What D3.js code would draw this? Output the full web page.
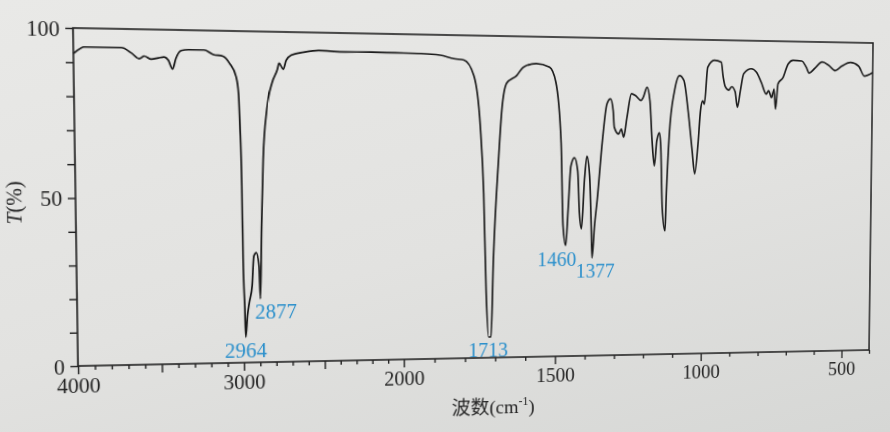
<!DOCTYPE html>
<html><head><meta charset="utf-8">
<script src="https://cdn.jsdelivr.net/npm/d3@7"></script>
<style>
html,body{margin:0;padding:0;width:890px;height:432px;overflow:hidden;
background:linear-gradient(165deg,#e9e9e7 0%,#e2e2e0 55%,#d6d7d5 100%);}
#chart{position:absolute;left:0;top:0;transform-origin:0 0;}
</style></head><body>
<svg id="chart" width="890" height="432"></svg>
<script>
// ---- data (wavenumber in cm^-1, transmittance in %) ----
const wavenumbers = [4000,3960,3938,3718,3660,3613,3583,3541,3500,3464,3440,3415,3395,3363,3320,3225,3170,3111,3071,3033,3019,3012,3004,3000,2992,2988,2976,2964,2946,2934,2919,2903,2896,2885,2872,2847,2814,2781,2770,2745,2726,2694,2611,2526,2380,2200,2050,1942,1880,1835,1802,1770,1749,1738,1730,1722,1714,1706,1689,1678,1662,1629,1607,1564,1520,1499,1481,1474,1465,1457,1448,1436,1425,1419,1412,1402,1394,1385,1379,1376,1368,1359,1342,1327,1315,1306,1302,1287,1278,1270,1259,1244,1230,1212,1204,1191,1181,1173,1165,1157,1148,1143,1137,1127,1123,1114,1097,1080,1065,1050,1035,1026,1015,1007,1000,994,983,960,936,929,922,910,899,887,879,869,858,831,813,796,778,770,760,751,745,737,719,702,685,654,638,627,609,581,557,534,511,480,451,430,400];
const transmittance = [92.5,94.0,94.5,94.5,93.0,91.3,92.1,91.2,91.6,91.9,91.0,88.4,91.5,93.9,94.2,94.2,92.9,92.4,90.3,86.4,81.4,71.7,53.6,31.5,16.4,7.8,14.4,18.4,23.4,32.4,33.4,29.4,19.4,41.5,61.7,76.8,84.7,88.7,90.6,88.8,91.5,93.1,94.1,94.6,94.3,94.4,94.3,94.2,93.8,92.8,92.4,87.7,72.2,51.5,20.5,6.5,6.5,30.8,61.8,77.3,85.5,87.9,90.5,91.7,90.6,86.0,67.2,41.1,35.0,46.3,59.9,62.5,58.3,45.2,40.2,55.8,63.0,57.0,41.0,31.0,41.0,49.3,68.0,79.5,81.0,77.3,72.1,70.0,71.6,69.0,75.3,82.7,82.1,80.6,81.6,84.8,80.5,67.9,60.0,68.0,70.5,65.8,46.8,39.4,51.1,70.1,83.8,88.6,87.1,77.6,64.9,57.5,67.0,77.6,80.7,79.7,91.4,93.6,93.0,88.3,85.3,84.2,85.3,83.7,78.8,84.1,89.5,91.1,90.0,86.8,83.1,84.2,82.0,84.7,78.3,86.4,88.5,92.8,94.0,93.8,91.9,90.0,91.4,93.6,92.5,90.9,92.4,93.6,92.5,89.3,90.5];

const xTickValues = d3.range(4000, 399, -100);
const xTickLabels = [4000, 3000, 2000, 1500, 1000, 500];
const yTickValues = d3.range(0, 101, 10);
const yTickLabels = [0, 50, 100];

// peak annotations: text and anchor (data units)
const peakLabels = ["2964", "2877", "1713", "1460", "1377"];
const peakLabelWn = [2987, 2800, 1723, 1495, 1365];
const peakLabelT = [1.4, 13.3, 0.3, 28.6, 24.7];

// ---- layout ----
const L = 75, T = 35, R = 871, B = 358;
const svg = d3.select("#chart");

// 4000-2000 compressed, 2000-400 expanded (standard IR chart)
const x = d3.scaleLinear().domain([4000, 2000, 400]).range([L, L + (R - L) * 0.389, R]);
const y = d3.scaleLinear().domain([0, 100]).range([B, T]);

const serif = "'Liberation Serif','Times New Roman',serif";
const ink = "#242424";

// frame
svg.append("rect").attr("x", L).attr("y", T).attr("width", R - L).attr("height", B - T)
  .attr("fill", "none").attr("stroke", ink).attr("stroke-width", 1.6);

// x axis
const gx = svg.append("g").attr("transform", `translate(0,${B})`)
  .call(d3.axisBottom(x).tickValues(xTickValues).tickSize(4)
    .tickFormat(d => xTickLabels.includes(d) ? d : ""));
gx.select(".domain").remove();
gx.selectAll(".tick line").attr("stroke", ink).attr("stroke-width", 1.4)
  .attr("y2", d => d % 500 === 0 ? 8 : 4);
gx.selectAll(".tick text").attr("y", 26).attr("dy", 0)
  .attr("font-family", serif).attr("font-size", 20).attr("fill", ink);

// y axis
const gy = svg.append("g").attr("transform", `translate(${L},0)`)
  .call(d3.axisLeft(y).tickValues(yTickValues).tickSize(7)
    .tickFormat(d => yTickLabels.includes(d) ? d : ""));
gy.select(".domain").remove();
gy.selectAll(".tick line").attr("stroke", ink).attr("stroke-width", 1.4);
gy.selectAll(".tick text").attr("x", -12).attr("dy", "0.35em")
  .attr("font-family", serif).attr("font-size", 20).attr("fill", ink);

// axis titles
const yt = svg.append("text").attr("transform", "translate(19,201) rotate(-90)")
  .attr("text-anchor", "middle").attr("dy", "0.35em")
  .attr("font-family", serif).attr("font-size", 20).attr("fill", ink);
yt.append("tspan").attr("font-style", "italic").text("T");
yt.append("tspan").text("(%)");

const xt = svg.append("text").attr("x", 474).attr("y", 415).attr("text-anchor", "middle")
  .attr("font-size", 19).attr("fill", ink);
xt.append("tspan").attr("font-family", "'Noto Sans CJK SC',sans-serif").text("波数");
xt.append("tspan").attr("font-family", serif).text("(cm");
xt.append("tspan").attr("font-family", serif).attr("font-size", 12).attr("dy", -8).text("-1");
xt.append("tspan").attr("font-family", serif).attr("dy", 8).text(")");

// spectrum
const pts = wavenumbers.map((w, i) => [w, transmittance[i]]);
svg.append("path").datum(pts)
  .attr("fill", "none").attr("stroke", "#1c1c1c").attr("stroke-width", 1.7)
  .attr("stroke-linejoin", "round")
  .attr("d", d3.line().x(d => x(d[0])).y(d => y(d[1])).curve(d3.curveMonotoneX));

// peak labels
svg.selectAll("text.peak").data(peakLabels).join("text").attr("class", "peak")
  .attr("x", (d, i) => x(peakLabelWn[i])).attr("y", (d, i) => y(peakLabelT[i]))
  .attr("text-anchor", "middle").attr("font-family", serif).attr("font-size", 20)
  .attr("fill", "#2a8fcb").text(d => d);

// ---- photo perspective: map plot rectangle onto the photographed quadrilateral ----
function solve(A, b) {
  const n = b.length, M = A.map((r, i) => r.concat([b[i]]));
  for (let c = 0; c < n; c++) {
    let p = c;
    for (let r = c + 1; r < n; r++) if (Math.abs(M[r][c]) > Math.abs(M[p][c])) p = r;
    [M[c], M[p]] = [M[p], M[c]];
    for (let r = 0; r < n; r++) {
      if (r === c) continue;
      const f = M[r][c] / M[c][c];
      for (let k = c; k <= n; k++) M[r][k] -= f * M[c][k];
    }
  }
  return M.map((r, i) => r[n] / r[i]);
}
const src = [[L, T], [R, T], [R, B], [L, B]];
const dst = [[73, 28], [873, 43], [869, 350], [78, 366]];
const A = [], bb = [];
src.forEach(([sx, sy], i) => {
  const [X, Y] = dst[i];
  A.push([sx, sy, 1, 0, 0, 0, -sx * X, -sy * X]); bb.push(X);
  A.push([0, 0, 0, sx, sy, 1, -sx * Y, -sy * Y]); bb.push(Y);
});
const h = solve(A, bb);
document.getElementById("chart").style.transform =
  `matrix3d(${h[0]},${h[3]},0,${h[6]},${h[1]},${h[4]},0,${h[7]},0,0,1,0,${h[2]},${h[5]},0,1)`;
</script>
</body></html>
